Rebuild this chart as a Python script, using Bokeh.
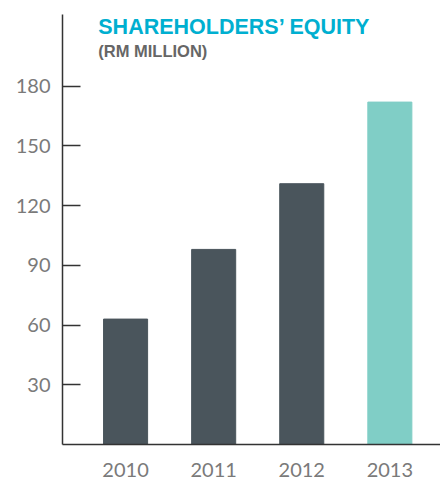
from bokeh.plotting import figure
from bokeh.models import ColumnDataSource, Range1d, FixedTicker, Label
from bokeh.embed import file_html
from bokeh.resources import INLINE

years = ["2010", "2011", "2012", "2013"]
equity = [63, 98, 131, 172]
colors = ["#4a555c", "#4a555c", "#4a555c", "#80cec6"]
y_ticks = [30, 60, 90, 120, 150, 180]

xs = list(range(len(years)))
src = ColumnDataSource(dict(x=xs, top=equity, color=colors))

p = figure(width=440, height=481, output_backend="svg", toolbar_location=None,
           x_range=Range1d(-0.716, 3.575), y_range=Range1d(0, 216),
           min_border_left=62, min_border_right=0, min_border_top=14, min_border_bottom=37)
p.outline_line_color = None
p.xgrid.visible = False
p.ygrid.visible = False
p.background_fill_color = "white"
p.border_fill_color = "white"

p.vbar(x="x", top="top", width=0.5, bottom=0, color="color", source=src)

# y axis
ya = p.yaxis[0]
ya.ticker = FixedTicker(ticks=y_ticks)
ya.axis_line_color = "#333333"
ya.axis_line_width = 1.5
ya.major_tick_in = 18
ya.major_tick_out = 0
ya.major_tick_line_color = "#333333"
ya.major_tick_line_width = 1.5
ya.minor_tick_line_color = None
ya.major_label_text_font = "Lato"
ya.major_label_text_font_size = "20px"
ya.major_label_text_color = "#7a7a7a"
ya.major_label_standoff = 12

# x axis
xa = p.xaxis[0]
xa.ticker = FixedTicker(ticks=xs)
xa.major_label_overrides = {i: y for i, y in zip(xs, years)}
xa.axis_line_color = "#333333"
xa.axis_line_width = 1.5
xa.major_tick_line_color = None
xa.minor_tick_line_color = None
xa.major_label_text_font = "Lato"
xa.major_label_text_font_size = "20px"
xa.major_label_text_color = "#7a7a7a"
xa.major_label_standoff = 12

p.add_layout(Label(x=-0.31, y=216, text="SHAREHOLDERS’ EQUITY", text_font="Liberation Sans",
                   text_font_style="bold", text_font_size="21.5px", text_color="#00afd0",
                   text_baseline="top"))
p.add_layout(Label(x=-0.31, y=202, text="(RM MILLION)", text_font="Liberation Sans",
                   text_font_style="bold", text_font_size="16.5px", text_color="#666666",
                   text_baseline="top"))

open("out.html", "w").write(file_html(p, INLINE))
